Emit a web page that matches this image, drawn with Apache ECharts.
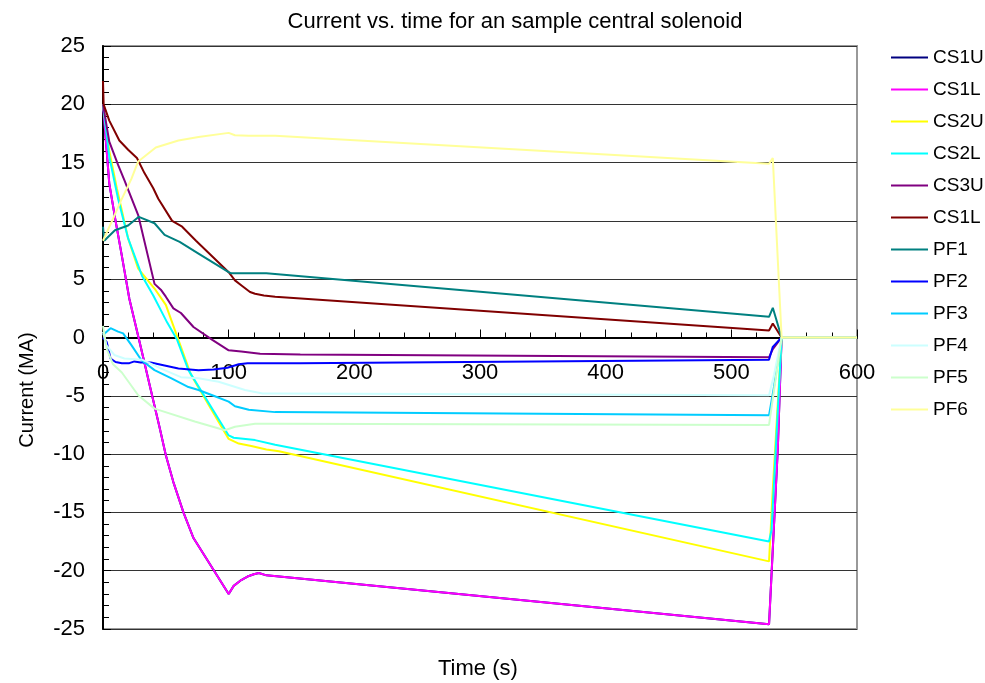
<!DOCTYPE html>
<html>
<head>
<meta charset="utf-8">
<script src="https://cdn.jsdelivr.net/npm/echarts@6/dist/echarts.min.js"></script>
<style>
  html, body { margin: 0; padding: 0; background: #fff; }
  #chart { width: 985px; height: 683px; }
</style>
</head>
<body>
<div id="chart"></div>
<script>
// Coil currents (MA) against time (s), one [time, current] list per coil
const legendLabels = ['CS1U', 'CS1L', 'CS2U', 'CS2L', 'CS3U', 'CS1L', 'PF1', 'PF2', 'PF3', 'PF4', 'PF5', 'PF6'];
const lineColors = ['#000080', '#FF00FF', '#FFFF00', '#00FFFF', '#800080', '#800000',
                    '#008080', '#0000FF', '#00CCFF', '#CCFFFF', '#CCFFCC', '#FFFF99'];

const cs1u = [[0,20],[5,13.2],[10,10],[15,7],[21,3.3],[30,-0.8],[40,-5.4],[45,-7.7],[50,-10.1],[56,-12.4],[64,-15],[72,-17.2],[100,-22],[104,-21.3],[110,-20.8],[115,-20.5],[120,-20.3],[124,-20.2],[130,-20.4],[530,-24.6],[537,-9.5],[540,0],[600,0]];
const cs1l = [[0,20],[5,13.2],[10,10],[15,7],[21,3.3],[30,-0.8],[40,-5.4],[45,-7.7],[50,-10.1],[56,-12.4],[64,-15],[72,-17.2],[100,-22],[104,-21.3],[110,-20.8],[115,-20.5],[120,-20.3],[124,-20.2],[130,-20.4],[530,-24.6],[537,-9.5],[540,0],[600,0]];
const cs2u = [[0,20],[5,16],[11,12.8],[20,8.5],[28,5.9],[41,4.2],[50,2.8],[61,-0.5],[70,-3.2],[100,-8.7],[108,-9.1],[118,-9.3],[130,-9.6],[140,-9.75],[530,-19.2],[533,-13],[540,0],[600,0]];
const cs2l = [[0,20],[5,15.5],[12,11.9],[20,8.5],[31,5.3],[40,3.6],[51,1.3],[59,-0.2],[68,-2.8],[100,-8.4],[104,-8.6],[121,-8.8],[137,-9.2],[530,-17.5],[532,-16.5],[540,0],[600,0]];
const cs3u = [[0,20],[5,16.8],[12,14.8],[17,13.5],[28,10.5],[41,4.6],[46,4.1],[50,3.5],[56,2.5],[62,2.1],[72,0.9],[87,-0.2],[100,-1.1],[110,-1.2],[125,-1.4],[157,-1.45],[530,-1.7],[533,-1],[540,0],[600,0]];
const cs3l = [[0,22],[0.5,20],[5,18.6],[13,16.9],[20,16.1],[27,15.4],[33,14.1],[40,12.8],[44,11.9],[55,10],[63,9.5],[74,8.3],[100,5.6],[105,4.9],[111,4.4],[117,3.9],[121,3.75],[128,3.6],[137,3.5],[530,0.6],[533,1.2],[540,0],[600,0]];
const pf1 = [[0,9.5],[1,8.3],[9.5,9.2],[20,9.6],[28.5,10.35],[41,9.8],[49,8.8],[61,8.2],[76,7.2],[100,5.6],[102,5.5],[130,5.5],[530,1.77],[533,2.55],[540,0],[600,0]];
const pf2 = [[0,0],[3,-0.4],[6,-1.8],[10,-2.1],[15,-2.2],[21,-2.2],[25,-2.05],[30,-2.15],[38,-2.15],[49,-2.4],[60,-2.65],[76,-2.8],[88,-2.75],[99,-2.6],[108,-2.3],[115,-2.2],[157,-2.2],[530,-1.9],[533,-0.8],[540,0],[600,0]];
const pf3 = [[0,0.2],[2,0.4],[6,0.8],[12,0.5],[16,0.35],[22.6,-0.65],[30.6,-1.95],[41,-2.8],[54.5,-3.5],[68,-4.25],[76,-4.5],[88,-5],[100,-5.5],[105,-5.9],[116,-6.2],[137,-6.4],[530,-6.66],[534,-4.2],[540,0],[600,0]];
const pf4 = [[0,0.5],[2.6,-0.65],[9,-1.5],[17,-1.8],[31,-1.9],[49,-2.8],[62,-3.4],[76,-3.5],[92,-3.8],[113,-4.5],[127,-4.8],[137,-4.8],[530,-4.95],[534,-3.2],[540,0],[600,0]];
const pf5 = [[0,1],[3,-1],[8,-2.3],[15,-3],[28,-4.95],[41,-6.1],[73,-7.2],[97,-7.95],[105,-7.66],[121,-7.4],[137,-7.4],[530,-7.5],[540,0],[600,0]];
const pf6 = [[0,8.3],[8,10.2],[14.6,11.8],[22.6,13.6],[28,15.1],[42,16.3],[60,16.9],[76,17.2],[100,17.55],[105,17.35],[116,17.3],[137,17.3],[530,14.9],[533,15.4],[540,0],[600,0]];

const seriesData = [cs1u, cs1l, cs2u, cs2l, cs3u, cs3l, pf1, pf2, pf3, pf4, pf5, pf6];
const seriesKeys = legendLabels.map((l, i) => 'k' + i);

const FONT = "'Liberation Sans', Arial, sans-serif";
const GRID = { left: 103, right: 128, top: 46, bottom: 54 };
// the time axis sits on the zero current line, half way down the plot
const zeroOffset = -(683 - GRID.top - GRID.bottom) / 2;

const chart = echarts.init(document.getElementById('chart'));
chart.setOption({
  animation: false,
  backgroundColor: '#fff',
  title: {
    text: 'Current vs. time for an sample central solenoid',
    left: 510, top: 6, textAlign: 'center',
    textStyle: { fontFamily: FONT, fontSize: 22, fontWeight: 'normal', color: '#000' }
  },
  grid: Object.assign({ show: true, borderColor: '#999', borderWidth: 2 }, GRID),
  legend: {
    orient: 'vertical', left: 886, top: 43,
    icon: 'rect', itemWidth: 37, itemHeight: 2, itemGap: 13,
    data: seriesKeys,
    formatter: name => legendLabels[seriesKeys.indexOf(name)],
    textStyle: { fontFamily: FONT, fontSize: 19, lineHeight: 19, color: '#000' }
  },
  xAxis: {
    type: 'value', min: 0, max: 600, interval: 100,
    position: 'bottom', offset: zeroOffset,
    axisLine: { onZero: false, lineStyle: { color: '#000', width: 2 } },
    axisTick: { inside: true, length: 8, lineStyle: { color: '#000' } },
    minorTick: { show: true, splitNumber: 5, length: 5, lineStyle: { color: '#000' } },
    splitLine: { show: false },
    axisLabel: { fontFamily: FONT, fontSize: 22, color: '#000', margin: 24 }
  },
  yAxis: {
    type: 'value', min: -25, max: 25, interval: 5,
    axisLine: { show: true, lineStyle: { color: '#000', width: 2 } },
    axisTick: { show: true, inside: true, length: 8, lineStyle: { color: '#000' } },
    minorTick: { show: true, splitNumber: 5, length: 6, lineStyle: { color: '#000' } },
    splitLine: { show: true, lineStyle: { color: '#333', width: 1 } },
    axisLabel: { fontFamily: FONT, fontSize: 22, color: '#000', margin: 18 }
  },
  graphic: [
    { type: 'text', left: 438, top: 658, style: { text: 'Time (s)', font: '22px ' + FONT, fill: '#000' } },
    { type: 'text', x: 27, y: 390, rotation: Math.PI / 2, style: { text: 'Current (MA)', font: '20px ' + FONT, fill: '#000', align: 'center', verticalAlign: 'middle' } }
  ],
  series: seriesData.map((d, i) => ({
    type: 'line', name: seriesKeys[i], data: d,
    symbol: 'none', lineStyle: { color: lineColors[i], width: 2 }, itemStyle: { color: lineColors[i] },
    z: 2 + i
  }))
});
</script>
</body>
</html>
